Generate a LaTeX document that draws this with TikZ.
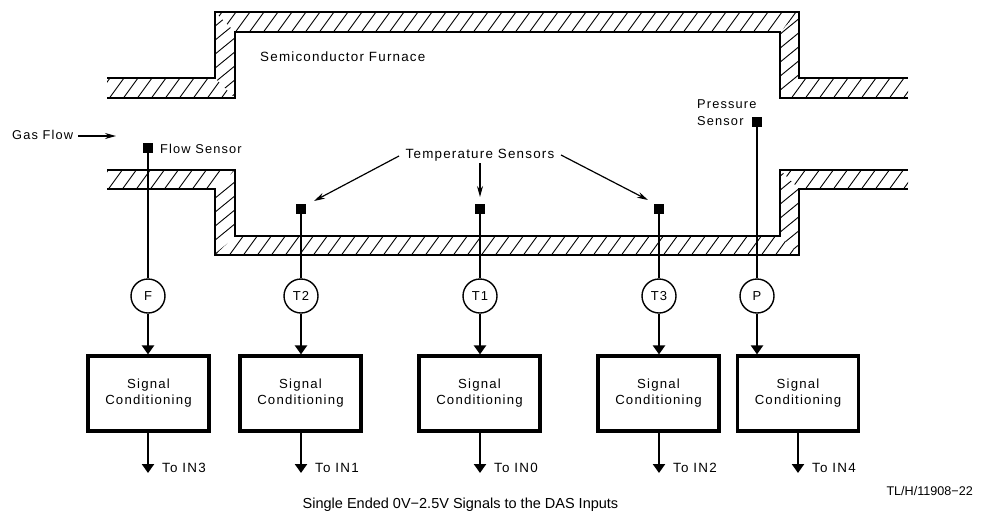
\documentclass[tikz,border=0pt]{standalone}
\usepackage{fontspec}
\setmainfont{Liberation Sans}
\newfontfamily\plotfont[LetterSpace=9]{Liberation Sans}
\usetikzlibrary{arrows.meta,calc}
\tikzset{
  x=1pt,y=-1pt,
  wall/.style={line width=1.9pt,line join=miter},
  hatchline/.style={line width=0.9pt},
  sensor/.style={fill=black,draw=none,minimum size=10pt,inner sep=0pt,outer sep=0pt},
  probe/.style={circle,draw,line width=1.4pt,minimum size=34pt,inner sep=0pt,font=\plotfont\fontsize{13}{15}\selectfont,fill=white},
  condbox/.style={draw,line width=3.2pt,minimum width=121pt,minimum height=75pt,inner sep=0pt,align=center,font=\plotfont\fontsize{13.2}{16}\selectfont},
  lab/.style={inner sep=0pt,anchor=west,font=\plotfont\fontsize{13.4}{17}\selectfont,align=left},
  smalllab/.style={lab,font=\plotfont\fontsize{12.8}{17}\selectfont},
  sig/.style={line width=2.4pt,-{Triangle[length=9pt,width=12pt]}},
  plain/.style={line width=2.4pt},
  thin arrow/.style={line width=1.2pt,-{Stealth[length=11pt,width=6pt]}},
  cap text/.style={inner sep=0pt}
}
% band with steep hatching: clip is #1, base height #2, base x #3
\newcommand{\hband}[3]{\begin{scope}\clip #1 -- cycle;
  \foreach \i in {0,...,60} \draw[hatchline] ({#3+14*\i},{#2+2})--({#3+14*\i+16},{#2-20});
\end{scope}}
% wall with flatter hatching: clip #1, left x #2, top y #3
\newcommand{\vband}[3]{\begin{scope}\clip #1 -- cycle;
  \foreach \i in {0,...,7} \draw[hatchline] ({#2-1},{#3+14*\i+18})--({#2+21},{#3+14*\i});
\end{scope}}
\begin{document}
\begin{tikzpicture}
\useasboundingbox (0,0) rectangle (988,512);
% hatching
\hband{(107,78)--(215,78)--(235,98)--(107,98)}{98}{94}
\hband{(215,12)--(799,12)--(780,32)--(235,32)}{32}{122}
\hband{(799,78)--(908,78)--(908,98)--(780,98)}{98}{776}
\vband{(215,12)--(235,32)--(235,98)--(215,78)}{215}{9}
\vband{(799,12)--(799,78)--(780,98)--(780,32)}{780}{17}
\hband{(107,170)--(235,170)--(215,189)--(107,189)}{189}{93}
\hband{(235,236)--(780,236)--(799,255)--(215,255)}{255}{200}
\hband{(780,170)--(908,170)--(908,189)--(799,189)}{189}{776}
\vband{(235,170)--(235,236)--(215,255)--(215,189)}{215}{167}
\vband{(780,236)--(780,170)--(799,189)--(799,255)}{780}{159}
% outlines
\draw[wall] (107,78)--(215,78)--(215,12)--(799,12)--(799,78)--(908,78);
\draw[wall] (908,98)--(780,98)--(780,32)--(235,32)--(235,98)--(107,98);
\draw[wall] (107,170)--(235,170)--(235,236)--(780,236)--(780,170)--(908,170);
\draw[wall] (908,189)--(799,189)--(799,255)--(215,255)--(215,189)--(107,189);
% sensors
\node[sensor] (sf) at (148,148) {};
\node[sensor] (s2) at (301,209) {};
\node[sensor] (s1) at (480,209) {};
\node[sensor] (s3) at (659,209) {};
\node[sensor] (sp) at (757,122) {};
% probes
\node[probe] (pf) at (148,296) {F};
\node[probe] (p2) at (301,296) {T2};
\node[probe] (p1) at (480,296) {T1};
\node[probe] (p3) at (659,296) {T3};
\node[probe] (pp) at (757,296) {P};
% boxes
\node[condbox] (bf) at (148.5,393.5) {Signal\\Conditioning};
\node[condbox] (b2) at (300.5,393.5) {Signal\\Conditioning};
\node[condbox] (b1) at (479.5,393.5) {Signal\\Conditioning};
\node[condbox] (b3) at (658.5,393.5) {Signal\\Conditioning};
\node[condbox] (bp) at (798,393.5) {Signal\\Conditioning};
% free ends
\coordinate (of) at (148,473);
\coordinate (o2) at (301,473);
\coordinate (o1) at (480,473);
\coordinate (o3) at (659,473);
\coordinate (op) at (798,473);
% connectors
\draw[plain] (sf)--(pf);
\draw[plain] (s2)--(p2);
\draw[plain] (s1)--(p1);
\draw[plain] (s3)--(p3);
\draw[plain] (sp)--(pp);
\draw[sig] (pf)--(bf.north -| pf);
\draw[sig] (p2)--(b2.north -| p2);
\draw[sig] (p1)--(b1.north -| p1);
\draw[sig] (p3)--(b3.north -| p3);
\draw[sig] (pp)--(bp.north -| pp);
\draw[sig] (bf.south -| of)--(of);
\draw[sig] (b2.south -| o2)--(o2);
\draw[sig] (b1.south -| o1)--(o1);
\draw[sig] (b3.south -| o3)--(o3);
\draw[sig] (bp.south -| op)--(op);
% labels
\node[lab] (furn) at (260,57) {Semiconductor Furnace};
\node[smalllab] (gas) at (12,135) {Gas Flow};
\coordinate (gasstart) at (78,136);
\coordinate (gasend) at (116,136);
\draw[thin arrow] (gasstart)--(gasend);
\node[smalllab] (fl) at (160,149) {Flow Sensor};
\node[smalllab,anchor=north west] (pl) at (697,99) {Pressure\\Sensor};
\node[lab,anchor=center] (ts) at (480,155) {Temperature Sensors};
\coordinate (t2) at (314,201);
\coordinate (t1) at (480,197);
\coordinate (t3) at (648,200);
\coordinate (f2) at (399,156);
\coordinate (f1) at (480,163);
\coordinate (f3) at (561,155);
\draw[thin arrow] (f2)--(t2);
\draw[thin arrow] (f1)--(t1);
\draw[thin arrow] (f3)--(t3);
\node[lab] at (162,468) {To IN3};
\node[lab] at (315,468) {To IN1};
\node[lab] at (494,468) {To IN0};
\node[lab] at (673,468) {To IN2};
\node[lab] at (812,468) {To IN4};
\node[cap text,anchor=center,font=\fontsize{14.5}{16}\selectfont] (c) at (460.5,505) {Single Ended 0V−2.5V Signals to the DAS Inputs};
\node[cap text,anchor=east,font=\fontsize{12.6}{14}\selectfont] (r) at (973,491) {TL/H/11908−22};
\end{tikzpicture}
\end{document}
